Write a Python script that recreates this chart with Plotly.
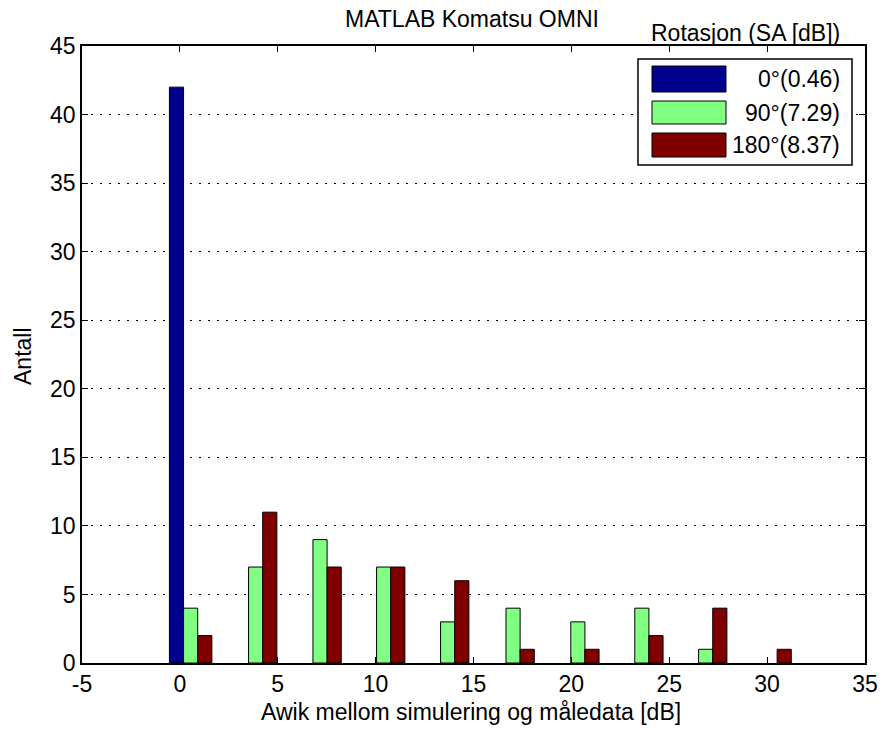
import plotly.graph_objects as go

# ---- data ----
bin_centers = [0.55, 3.87, 7.16, 10.41, 13.68, 17.02, 20.33, 23.60, 26.86, 30.15]
counts_0 = [42, 0, 0, 0, 0, 0, 0, 0, 0, 0]
counts_90 = [4, 7, 9, 7, 3, 4, 3, 4, 1, 0]
counts_180 = [2, 11, 7, 7, 6, 1, 1, 2, 4, 1]
series_names = ["0°(0.46)", "90°(7.29)", "180°(8.37)"]
series_colors = ["#00008F", "#80FF80", "#800000"]
x_ticks = [-5, 0, 5, 10, 15, 20, 25, 30, 35]
x_tick_labels = ["-5", "0", "5", "10", "15", "20", "25", "30", "35"]
y_ticks = [0, 5, 10, 15, 20, 25, 30, 35, 40, 45]

W, H = 880, 730
# plot area in pixels: x 82..865, y 46..663
L, T = 82, 46
R = W - 865
B = H - 663
FONT = "Liberation Sans, Arial, Helvetica, sans-serif"
FS = 23

fig = go.Figure()
for name, vals, col in zip(series_names, [counts_0, counts_90, counts_180], series_colors):
    fig.add_trace(go.Bar(x=bin_centers, y=[v if v else None for v in vals], name=name,
                         marker_color=col, marker_line_color="black", marker_line_width=1,
                         showlegend=False))

pw = W - L - R
ph = H - T - B
def px(xs):
    return (xs - L) / pw
def py(ys):
    return (H - B - ys) / ph

shapes = []
annotations = []
# legend box
shapes.append(dict(type="rect", xref="paper", yref="paper",
                   x0=px(638), x1=px(852), y0=py(165), y1=py(59),
                   line=dict(color="black", width=1.5), fillcolor="white", layer="above"))
rows = [(66, 92), (101, 124), (133, 157)]
for (y0, y1), name, col in zip(rows, series_names, series_colors):
    shapes.append(dict(type="rect", xref="paper", yref="paper",
                       x0=px(652), x1=px(726), y0=py(y1), y1=py(y0),
                       line=dict(color="black", width=1), fillcolor=col, layer="above"))
    annotations.append(dict(text=name, xref="paper", yref="paper", x=px(842), y=py((y0 + y1) / 2),
                            xanchor="right", yanchor="middle", showarrow=False,
                            font=dict(family=FONT, size=FS, color="black")))
annotations.append(dict(text="Rotasjon (SA [dB])", xref="paper", yref="paper",
                        x=px(745), y=py(33), xanchor="center", yanchor="middle",
                        showarrow=False, font=dict(family=FONT, size=FS, color="black")))
# axis titles
annotations.append(dict(text="Awik mellom simulering og måledata [dB]", xref="paper", yref="paper",
                        x=px(471), y=py(712), xanchor="center", yanchor="middle",
                        showarrow=False, font=dict(family=FONT, size=FS, color="black")))
annotations.append(dict(text="Antall", xref="paper", yref="paper", textangle=-90,
                        x=px(23), y=py(356), xanchor="center", yanchor="middle",
                        showarrow=False, font=dict(family=FONT, size=FS, color="black")))
# title
annotations.append(dict(text="MATLAB Komatsu OMNI", xref="paper", yref="paper",
                        x=px(472), y=py(19), xanchor="center", yanchor="middle",
                        showarrow=False, font=dict(family=FONT, size=FS, color="black")))

fig.update_layout(
    width=W, height=H,
    margin=dict(l=L, r=R, t=T, b=B, autoexpand=False),
    paper_bgcolor="white", plot_bgcolor="white",
    barmode="group", bargap=0.333, bargroupgap=0,
    font=dict(family=FONT, size=FS, color="black"),
    shapes=shapes, annotations=annotations,
)
fig.update_xaxes(range=[-5, 35], tickvals=x_ticks, ticktext=x_tick_labels,
                 ticks="inside", ticklen=6, tickcolor="black",
                 showline=True, linecolor="black", linewidth=1.5, mirror="ticks",
                 showgrid=False, zeroline=False, ticklabeloverflow="allow",
                 tickfont=dict(family=FONT, size=FS))
fig.update_yaxes(range=[0, 45], tickvals=y_ticks, ticks="inside", ticklen=6, tickcolor="black",
                 showline=True, linecolor="black", linewidth=1.5, mirror="ticks",
                 showgrid=True, gridcolor="black", gridwidth=1, griddash="2px,7px",
                 zeroline=False,
                 tickfont=dict(family=FONT, size=FS))

fig.write_html("out.html", config={"displayModeBar": False},
               post_script="document.body.style.margin='0';document.body.style.overflow='hidden';")
